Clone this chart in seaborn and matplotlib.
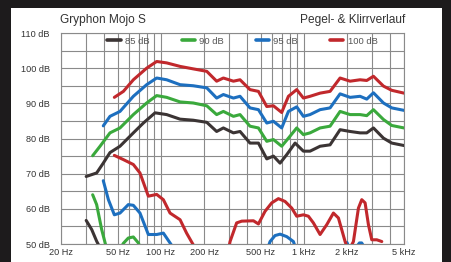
import numpy as np
import pandas as pd
import matplotlib
matplotlib.use("Agg")
import matplotlib.pyplot as plt
from matplotlib.patches import Rectangle
from matplotlib.ticker import FixedLocator, NullFormatter, LogLocator
import seaborn as sns

# ---------------- data ----------------
# Frequency response (Pegel) per level
f85 = [30, 35.5, 39.5, 44, 51.7, 64.1, 75.3, 90.9, 109.6, 136, 168, 209, 245, 273, 321, 357, 419, 480,
       549, 611, 680, 757, 866, 990, 1102, 1295, 1521, 1787, 2099, 2466, 2745, 3057, 3592, 4106, 5000]
db85 = [69.2, 70.2, 73, 76, 77.8, 81.6, 84.4, 87.3, 86.8, 85.5, 85.2, 84.6, 82, 83, 81.6, 82, 78.7, 78.7,
        74.2, 75, 73, 75.4, 78.7, 76.4, 76.4, 77.8, 78.2, 82.5, 82, 81.6, 81.6, 83, 80.1, 78.7, 78]

f90 = [33.3, 37.5, 44, 51.7, 64.1, 79.4, 93.3, 109.6, 136, 168, 209, 245, 273, 321, 357, 419, 480, 549,
       611, 698, 778, 889, 990, 1102, 1295, 1521, 1787, 2099, 2466, 2745, 3057, 3592, 4106, 5000]
db90 = [75.1, 77.8, 81.6, 83, 86.8, 90.1, 92.2, 91.7, 90.4, 90.1, 89.3, 86.8, 87.7, 86.3, 86.8, 83.5, 83, 79.2,
        79.7, 77.8, 80.1, 83, 81.1, 81.6, 83, 83.5, 87.7, 86.8, 86.8, 86.5, 88.2, 85.4, 83.7, 83]

f95 = [39.5, 44, 51.7, 64.1, 79.4, 93.3, 109.6, 136, 168, 209, 245, 273, 321, 357, 419, 480, 549, 611,
       698, 778, 889, 990, 1102, 1295, 1521, 1787, 2099, 2466, 2745, 3057, 3592, 4106, 5000]
db95 = [83.6, 86.3, 87.7, 92, 95.3, 97.2, 96.7, 95.3, 95, 94.4, 91.5, 92.5, 91.5, 92, 88.7, 88.2, 84.4, 84.9,
        83, 87.7, 89, 86.3, 86.8, 88.2, 88.7, 92.7, 91.7, 92, 91.2, 93, 90.1, 88.7, 88]

f100 = [47.2, 54.6, 64.1, 79.4, 93.3, 109.6, 136, 168, 209, 245, 273, 321, 357, 419, 480, 549, 611, 698,
        778, 889, 990, 1102, 1295, 1521, 1787, 2099, 2466, 2745, 3057, 3592, 4106, 5000]
db100 = [91.7, 93.4, 96.7, 100, 101.9, 101.5, 100.5, 99.8, 99.1, 96.3, 97.2, 96.3, 96.7, 93.9, 93.4, 89.1, 89.3, 87.4,
         92, 93.9, 91.5, 92, 92.9, 93.4, 97.2, 96.3, 96.7, 96.5, 97.7, 94.9, 93.7, 92.9]

# Distortion (Klirr) segments per level
k85_f = [30, 32.8, 35.5, 37.1]
k85_db = [56.7, 54.1, 50.8, 49.3]

k90a_f = [33.3, 35.5, 38.5, 41.3]
k90a_db = [64, 61.2, 54.1, 49.3]
k90b_f = [52.5, 54.6, 59.1, 64.1, 69.5, 71.5]
k90b_db = [49.0, 50.2, 51.7, 52, 50.3, 49.0]

k95a_f = [39.5, 42.9, 47.2, 51.7, 59.1, 64.1, 71.3, 81.6, 93.3, 103.9, 115.7, 122]
k95a_db = [68, 62.6, 58.3, 58.8, 61.2, 61, 58.8, 52.7, 52.7, 53.1, 50.3, 48.9]
k95b_f = [560, 579, 627, 680, 757, 843, 870]
k95b_db = [49.0, 50.7, 52.4, 52.8, 52.1, 50.7, 49.0]
k95c_f = [1960, 2000, 2040]
k95c_db = [49.2, 50.4, 49.2]
k95d_f = [2350, 2440, 2530, 2610]
k95d_db = [49.4, 50.3, 50.3, 49.4]

k100a_f = [47.2, 54.6, 64.1, 71.3, 81.6, 93.3, 103.9, 115.7, 136, 151, 168, 175]
k100a_db = [75.2, 74, 72.6, 70.2, 63.6, 64.1, 62.6, 58.8, 56.9, 53.1, 49.8, 48.5]
k100b_f = [295, 304, 338, 367, 443, 480, 534, 595, 662, 737, 821, 889, 990, 1073, 1163, 1295, 1442, 1605,
           1740, 1937, 2050, 2215, 2401, 2533, 2673, 2820, 2976, 3226, 3497]
k100b_db = [48, 50.7, 56, 56.5, 56.6, 55.7, 59.3, 61.7, 62.9, 62.1, 60.2, 57.9, 58.3, 57.9, 56, 52.7, 55.5, 58.8,
            57.4, 50.7, 48, 50.7, 60.2, 62.6, 61.7, 55.5, 51.2, 51.2, 50.7]

levels = ["85 dB", "90 dB", "95 dB", "100 dB"]
colors = ["#3b3434", "#3aa93c", "#1d6fbf", "#c1282c"]

xticks = [20, 50, 100, 200, 500, 1000, 2000, 5000]
xticklabels = ["20 Hz", "50 Hz", "100 Hz", "200 Hz", "500 Hz", "1 kHz", "2 kHz", "5 kHz"]
yticks = [50, 60, 70, 80, 90, 100, 110]
yticklabels = ["50 dB", "60 dB", "70 dB", "80 dB", "90 dB", "100 dB", "110 dB"]

title_left = "Gryphon Mojo S"
title_right = "Pegel- & Klirrverlauf"

# ---------------- plot ----------------
sns.set_style("white")
plt.rcParams["font.family"] = ["Liberation Sans", "DejaVu Sans"]

fig = plt.figure(figsize=(4.51, 2.62), dpi=100, facecolor="#1d1b1c")
bg = Rectangle((11 / 451, 0), (442 - 11) / 451, (262 - 8) / 262,
               transform=fig.transFigure, facecolor="white", edgecolor="none", zorder=-10)
fig.patches.append(bg)
ax = fig.add_axes([61 / 451, 18 / 262, (404 - 61) / 451, (244 - 33) / 262])
ax.set_zorder(5)
ax.set_facecolor("white")

lw = 2.2
main = [(f85, db85), (f90, db90), (f95, db95), (f100, db100)]
for (fx, dy), lab, c in zip(main, levels, colors):
    sns.lineplot(x=fx, y=dy, ax=ax, color=c, linewidth=lw, label=lab, zorder=3)

dist = [
    (k85_f, k85_db, 0), (k90a_f, k90a_db, 1), (k90b_f, k90b_db, 1),
    (k95a_f, k95a_db, 2), (k95b_f, k95b_db, 2), (k95c_f, k95c_db, 2), (k95d_f, k95d_db, 2),
    (k100a_f, k100a_db, 3), (k100b_f, k100b_db, 3),
]
for fx, dy, ci in dist:
    sns.lineplot(x=fx, y=dy, ax=ax, color=colors[ci], linewidth=lw, legend=False, zorder=3)

ax.set_xscale("log")
ax.set_xlim(20, 5000)
ax.set_ylim(50, 110)

ax.xaxis.set_major_locator(FixedLocator(xticks))
ax.set_xticklabels(xticklabels)
ax.xaxis.set_minor_locator(LogLocator(base=10, subs=np.arange(1, 10)))
ax.xaxis.set_minor_formatter(NullFormatter())
ax.set_yticks(yticks)
ax.set_yticklabels(yticklabels)
ax.set_yticks(np.arange(55, 110, 10), minor=True)

gcol = "#8a8a8a"
ax.grid(True, which="both", axis="x", color=gcol, linewidth=0.8)
ax.grid(True, which="both", axis="y", color=gcol, linewidth=0.8)
ax.set_axisbelow(True)
for sp in ax.spines.values():
    sp.set_color(gcol)
    sp.set_linewidth(0.8)

ax.tick_params(axis="both", which="both", length=0, labelsize=6.6, colors="#333333")
ax.tick_params(axis="y", pad=8)
ax.tick_params(axis="x", pad=3)
ax.set_xlabel("")
ax.set_ylabel("")

leg = ax.legend(loc="upper center", bbox_to_anchor=(0.529, 1.01), ncol=4, frameon=False,
                fontsize=6.8, handlelength=1.4, handletextpad=0.45, columnspacing=3.4, borderaxespad=0.2)
for t in leg.get_texts():
    t.set_color("#555555")
for h in leg.get_lines():
    h.set_linewidth(2.6)

fig.text(60 / 451, 1 - 20 / 262, title_left, ha="left", va="center", fontsize=8.6, color="#333333")
fig.text(405 / 451, 1 - 20 / 262, title_right, ha="right", va="center", fontsize=8.6, color="#333333")

fig.savefig("out.png", dpi=100, facecolor=fig.get_facecolor())
